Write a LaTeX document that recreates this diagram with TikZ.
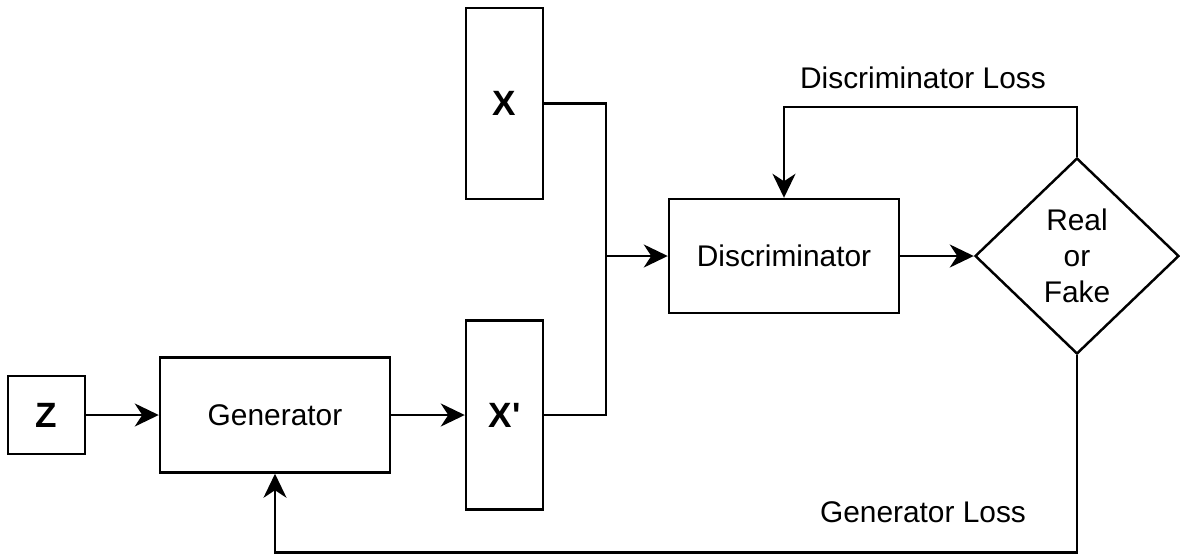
\documentclass[tikz,border=0pt]{standalone}
\usepackage{fontspec}
\setmainfont{Liberation Sans}
\usepackage{tikz}
\usetikzlibrary{positioning,arrows.meta,calc,shapes.geometric}
\tikzset{
  box/.style={draw=black,line width=1.4pt,fill=white,inner sep=0pt,align=center},
  varbox/.style={box,minimum width=1.54cm,font=\fontsize{20}{24}\selectfont\bfseries},
  netbox/.style={box,minimum width=4.6cm,minimum height=2.3cm},
  decide/.style={draw=black,line width=1.4pt,shape=diamond,inner sep=0pt,aspect=1.04,
    minimum width=4.08cm,minimum height=3.92cm,align=center},
  plain/.style={align=center},
  wire/.style={draw=black,line width=1.4pt},
  flow/.style={wire,-{Stealth[length=4.8mm,width=4.6mm,inset=1.5mm]}}}

\begin{document}
\begin{tikzpicture}[font=\fontsize{17}{20.5}\selectfont]
  \useasboundingbox (0,0) rectangle (23.6,-11.1);
  % inputs and the two networks
  \node[varbox,minimum height=1.56cm] (z) at (0.93,-8.30) {Z};
  \node[netbox] (gen) at (5.5,-8.30) {Generator};
  \node[varbox,minimum height=3.82cm] (xreal) at (10.09,-2.07) {X};
  \node[varbox,minimum height=3.78cm] (xfake) at (10.09,-8.30) {X\textquotesingle};
  \node[netbox,minimum height=2.28cm] (disc) at (15.68,-5.12) {Discriminator};
  \node[decide] (dec) at (21.54,-5.12) {Real\\or\\Fake};
  % turning points of the wires
  \coordinate (join) at (12.12,-5.12);
  \coordinate (dtop) at (15.68,-2.14);
  \coordinate (gbot) at (5.5,-11.05);
  \draw[flow] (z.east) -- (gen.west);
  \draw[flow] (gen.east) -- (xfake.west);
  \draw[wire] (xreal.east) -| (join);
  \draw[wire] (xfake.east) -| (join);
  \draw[flow] (join) -- (disc.west);
  \draw[flow] (disc.east) -- (dec.west);
  % the two losses fed back
  \draw[flow] (dec.north) |- (dtop) -- (disc.north);
  \draw[flow] (dec.south) |- (gbot) -- (gen.south);
  \node[plain] (dloss) at (18.46,-1.56) {Discriminator Loss};
  \node[plain] (gloss) at (18.46,-10.24) {Generator Loss};
\end{tikzpicture}
\end{document}
